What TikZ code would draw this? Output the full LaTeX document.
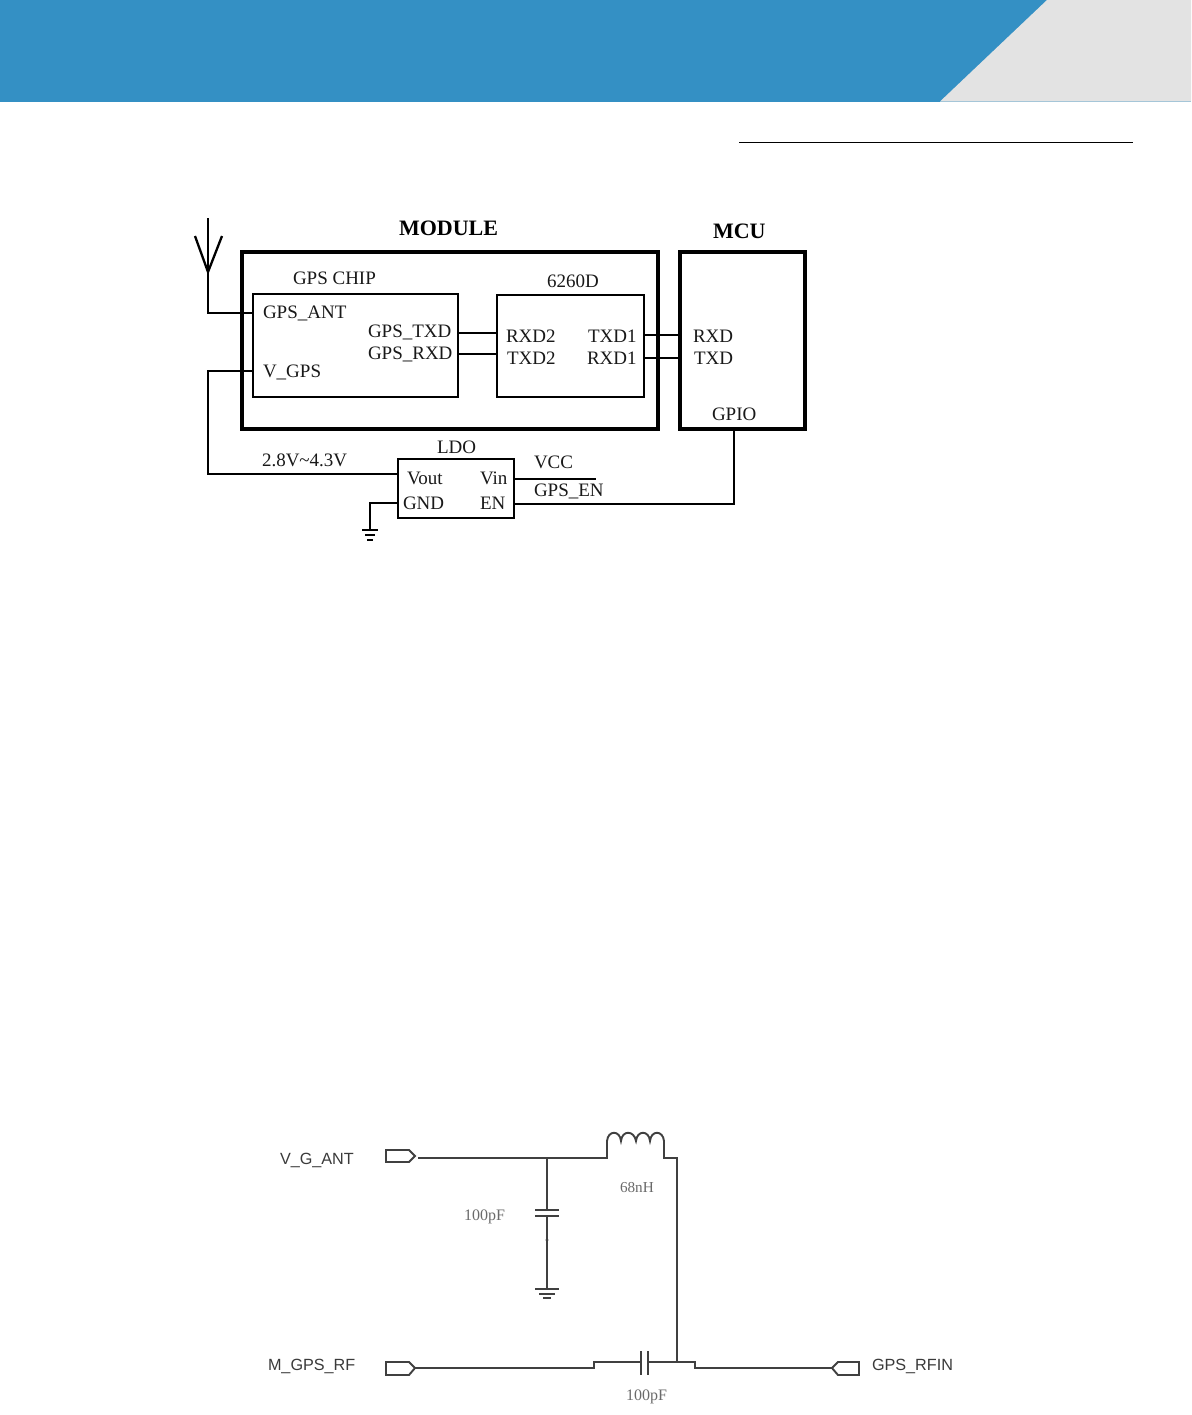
\documentclass[tikz,border=0pt]{standalone}
\usepackage{fontspec}
\setmainfont{Liberation Serif}
\setsansfont{Liberation Sans}
\definecolor{hdrblue}{HTML}{3490C4}
\definecolor{hdrgray}{HTML}{E3E3E3}
\definecolor{lowwire}{HTML}{404040}
\definecolor{lowtxt}{HTML}{3A3A3A}
\definecolor{valtxt}{HTML}{6A6A6A}
\tikzset{
  heavybox/.style={draw=black,line width=1.75pt,fill=none,outer sep=0pt,inner sep=0pt},
  thinbox/.style={draw=black,line width=1.15pt,fill=none,outer sep=0pt,inner sep=0pt},
  wire/.style={draw=black,line width=1.15pt,line join=miter},
  lowline/.style={draw=lowwire,line width=0.95pt,line join=miter},
  lbl/.style={anchor=base west,inner sep=0pt,outer sep=0pt,font=\fontsize{9.5}{11}\selectfont,text=black!90},
  hd/.style={anchor=base west,inner sep=0pt,outer sep=0pt,font=\fontsize{11}{13}\selectfont\bfseries},
  netlbl/.style={anchor=base west,inner sep=0pt,outer sep=0pt,font=\sffamily\fontsize{8.1}{10}\selectfont,text=lowtxt},
  vallbl/.style={anchor=base west,inner sep=0pt,outer sep=0pt,font=\fontsize{8}{10}\selectfont,text=valtxt},
}
\begin{document}
\begin{tikzpicture}[x=0.5pt,y=-0.5pt]
\useasboundingbox (0,0) rectangle (1191,1415);
\fill[white] (0,0) rectangle (1191,1415);
% header
\fill[hdrblue] (0,0) rectangle (1191,101.5);
\fill[hdrgray] (1047,0) -- (1191,0) -- (1191,101.5) -- (940,101.5) -- cycle;
\draw[black,line width=0.85pt] (739,142.5) -- (1133,142.5);

% upper block diagram
\node[heavybox,minimum width=208pt,minimum height=88.5pt] (module) at (450,340.5) {};
\node[heavybox,minimum width=62.5pt,minimum height=88.5pt] (mcu) at (742.5,340.5) {};
\node[thinbox,minimum width=102.5pt,minimum height=51.5pt] (gps) at (355.5,345.5) {};
\node[thinbox,minimum width=73.5pt,minimum height=51pt] (dual) at (570.5,346) {};
\node[thinbox,minimum width=58pt,minimum height=29.5pt] (ldo) at (456,488.5) {};

\node[hd] (tmodule) at (399,235) {MODULE};
\node[hd] (tmcu) at (713,238) {MCU};
\node[lbl] (tchip) at (293,284) {GPS CHIP};
\node[lbl] (tdual) at (547,287) {6260D};
\node[lbl] (tant) at (263,318) {GPS\_ANT};
\node[lbl] (tvgps) at (263,377) {V\_GPS};
\node[lbl] (tgtxd) at (368,337) {GPS\_TXD};
\node[lbl] (tgrxd) at (368,359) {GPS\_RXD};
\node[lbl] (trxd2) at (506,342) {RXD2};
\node[lbl] (ttxd2) at (507,364) {TXD2};
\node[lbl] (ttxd1) at (588,342) {TXD1};
\node[lbl] (trxd1) at (587,364) {RXD1};
\node[lbl] (trxd) at (693,342) {RXD};
\node[lbl] (ttxd) at (694,364) {TXD};
\node[lbl] (tgpio) at (712,420) {GPIO};
\node[lbl] (tldo) at (437,453) {LDO};
\node[lbl] (tvolt) at (262,466) {2.8V\textasciitilde4.3V};
\node[lbl] (tvout) at (407,484) {Vout};
\node[lbl] (tgnd) at (403,509) {GND};
\node[lbl] (tvin) at (480,484) {Vin};
\node[lbl] (ten) at (480,509) {EN};
\node[lbl] (tvcc) at (534,468) {VCC};
\node[lbl] (tgpsen) at (534,496) {GPS\_EN};

\coordinate (anttip) at (208,218);
\coordinate (antfoot) at (208,272);
\coordinate (vcorner) at (208,371);
\coordinate (gndtop) at (370,530);
\coordinate (vccend) at (596,479);

% antenna
\draw[wire] (anttip) -- (antfoot);
\draw[wire] (195,236) -- (antfoot) -- (222,236);
\draw[wire] (antfoot) |- (gps.west |- 0,313);
% supply
\draw[wire] (gps.west |- 0,371) -- (vcorner) |- (ldo.west |- 0,474);
% ldo ground
\draw[wire] (ldo.west |- 0,503) -| (gndtop);
\draw[black,line width=1.15pt] (362,530) -- (378,530);
\draw[black,line width=1.15pt] (365,535) -- (375,535);
\draw[black,line width=1.15pt] (367,540) -- (373,540);
% ldo right
\draw[wire] (ldo.east |- 0,479) -- (vccend);
\draw[wire] (ldo.east |- 0,504) -| (mcu.south -| 734,0);
% data lines
\draw[wire] (gps.east |- 0,333) -- (dual.west |- 0,333);
\draw[wire] (gps.east |- 0,354) -- (dual.west |- 0,354);
\draw[wire] (dual.east |- 0,335) -- (mcu.west |- 0,335);
\draw[wire] (dual.east |- 0,358) -- (mcu.west |- 0,358);

% lower schematic
\node[netlbl] (nvg) at (280,1164) {V\_G\_ANT};
\node[netlbl] (nmg) at (268,1370) {M\_GPS\_RF};
\node[netlbl] (nrf) at (872,1370) {GPS\_RFIN};
\node[vallbl] (vc1) at (464,1220) {100pF};
\node[vallbl,font=\fontsize{7.6}{10}\selectfont] (vl1) at (620,1192) {68nH};
\node[vallbl] (vc2) at (626,1400) {100pF};

\coordinate (pvg) at (418,1158);
\coordinate (pmg) at (415,1368);
\coordinate (prf) at (832,1368);
\coordinate (tee) at (547,1158);
\coordinate (lin) at (607,1158);
\coordinate (lout) at (664,1158);
\coordinate (rj) at (677,1362);

% ports
\draw[lowline] (386,1150) -- (409,1150) -- (415,1156) -- (409,1162) -- (386,1162) -- cycle;
\draw[lowline] (386,1362) -- (409,1362) -- (415,1368) -- (409,1375) -- (386,1375) -- cycle;
\draw[lowline] (832,1368) -- (838,1362) -- (859,1362) -- (859,1375) -- (838,1375) -- cycle;
% top wire and inductor
\draw[lowline] (pvg) -- (tee) -- (lin) -- (607,1141)
  .. controls (608,1130) and (620,1130) .. (621,1141)
  .. controls (622,1130) and (634,1130) .. (636,1141)
  .. controls (637,1130) and (649,1130) .. (650,1141)
  .. controls (651,1130) and (663,1130) .. (664,1141)
  -- (lout) -- (677,1158) -- (rj);
% shunt capacitor
\draw[lowline] (tee) -- (547,1210);
\draw[lowline] (535,1210) -- (559,1210);
\draw[lowline] (535,1216) -- (559,1216);
\draw[lowline] (547,1216) -- (547,1289);
\fill[lowwire] (547,1240) circle[radius=1.6];
\draw[lowline] (535,1289) -- (559,1289);
\draw[lowline] (539,1294) -- (555,1294);
\draw[lowline] (543,1298) -- (551,1298);
% series capacitor
\draw[lowline] (pmg) -- (594,1368) -- (594,1362) -- (641,1362);
\draw[lowline] (641,1351) -- (641,1375);
\draw[lowline] (648,1351) -- (648,1375);
\draw[lowline] (648,1362) -- (rj) -- (695,1362) -- (695,1368) -- (prf);
\end{tikzpicture}
\end{document}
